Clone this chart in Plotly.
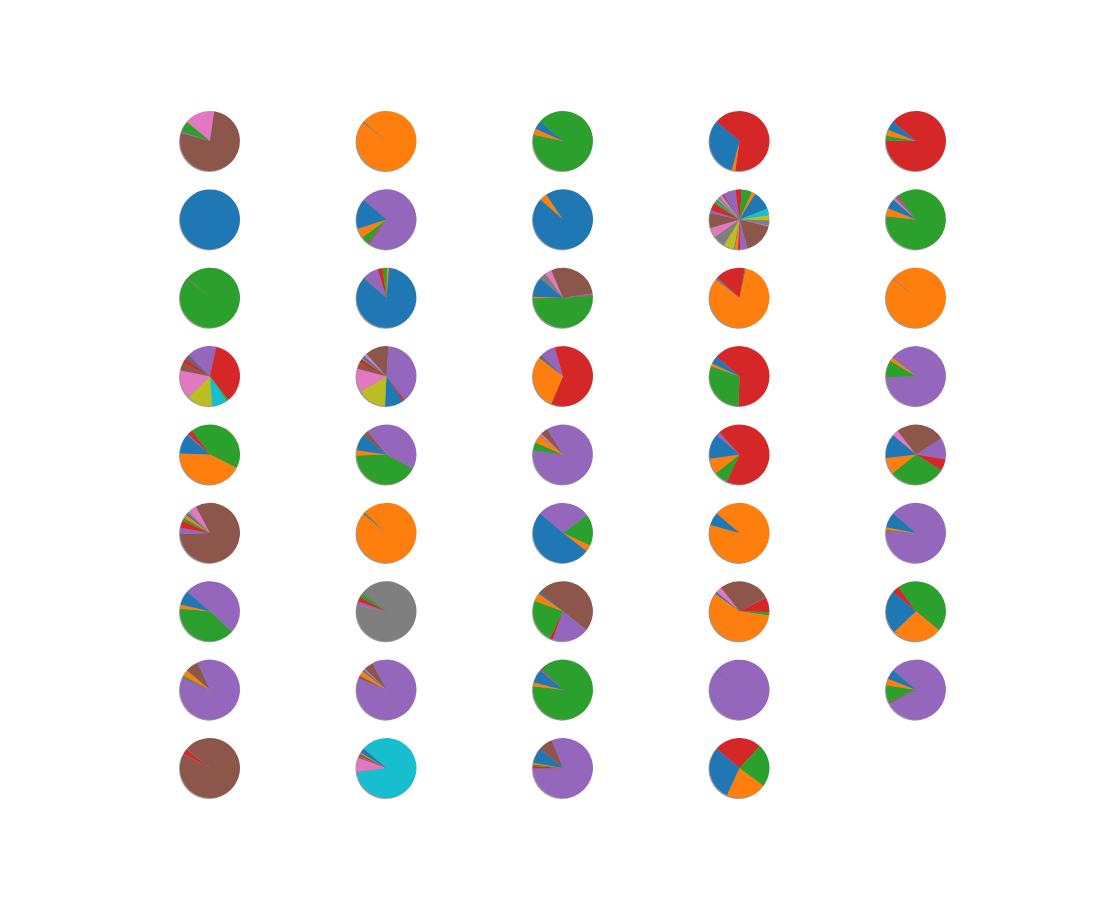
import plotly.graph_objects as go

# tab10 / d3 category10 palette, applied to slices in order (cycling)
palette = ["#1f77b4", "#ff7f0e", "#2ca02c", "#d62728", "#9467bd",
           "#8c564b", "#e377c2", "#7f7f7f", "#bcbd22", "#17becf"]

# slice values of each pie, row by row (first slice starts at 140 deg, counterclockwise)
row_1 = [
    [0, 0.5, 21, 0, 3, 277, 58],
    [1.5, 358.5],
    [16, 12, 332],
    [115, 7, 0, 238],
    [18, 12, 9, 321],
]
row_2 = [
    [360, 0.4],
    [58, 19, 15, 2, 266],
    [344, 14, 2],
    [2, 2, 4, 14, 6, 28, 19, 23, 20, 0.5, 1, 6, 0.5, 4, 14, 60, 2, 10, 10, 13,
     37, 7, 20, 12, 24, 4, 6, 3, 2, 3],
    [18, 16, 313, 2, 3, 2, 4, 2],
]
row_3 = [
    [0, 0, 358, 0.7, 0.5, 0.8],
    [305, 4, 9, 9, 31, 2],
    [38, 3, 183, 1, 3, 105, 13, 14],
    [2, 294, 2, 58, 2],
    [0.6, 358.6, 0, 0, 0.8],
]
row_4 = [
    [4, 0, 0, 10, 0, 15, 55, 0, 50, 30, 0, 0, 4, 130, 57, 5],
    [3, 1, 2, 8, 0, 12, 45, 0, 56, 0, 36, 0, 0, 4, 139, 46, 6, 0, 0, 0, 2],
    [2, 105, 0, 219, 30, 4],
    [15, 6, 107, 232],
    [1, 8, 33, 0.5, 317.5],
]
row_5 = [
    [38, 155, 154, 10, 3],
    [32, 10, 149, 0, 158, 11],
    [0.5, 16, 16, 0.5, 309, 14, 4],
    [48, 30.5, 26.5, 247, 8],
    [47, 31.5, 109.5, 22.5, 42, 96, 12],
]
row_6 = [
    [3, 7, 6, 14, 12, 296, 17, 5],
    [0.8, 356, 2.5, 0.7],
    [182, 13, 61, 0, 104],
    [25, 335],
    [29, 5, 2, 1, 323],
]
row_7 = [
    [27, 8, 142, 0, 183],
    [2, 1, 8, 10, 6, 1, 1, 331],
    [4, 16, 84, 6, 71.5, 178.5],
    [4, 208, 6, 29, 1, 100, 12],
    [83.5, 97, 165.5, 14],
]
row_8 = [
    [0.5, 12, 3, 0.5, 319, 25],
    [2, 10, 2, 3, 321, 18, 2, 2],
    [26.5, 7, 322, 2, 2.5],
    [0.4, 0, 0, 0.4, 359.2],
    [19, 12.6, 33.4, 2, 293],
]
row_9 = [
    [0.5, 0.5, 0.3, 11, 0.5, 347],
    [9, 2, 2, 3, 2, 2, 27, 1, 0, 312],
    [30, 3, 3, 5, 291, 28],
    [105, 78, 84, 93],
]
rows = [row_1, row_2, row_3, row_4, row_5, row_6, row_7, row_8, row_9]

W, H = 1100, 900
col_x = [210, 386.5, 563, 739.5, 916]
row_y0, row_dy = 141, 78.375
R = 30
START_ANGLE = 140  # matplotlib-style start, degrees ccw from 3 o'clock

fig = go.Figure()


def dom(cx, cy, dx=0.0, dy=0.0):
    return dict(x=[(cx - R + dx) / W, (cx + R + dx) / W],
                y=[1 - (cy + R + dy) / H, 1 - (cy - R + dy) / H])


for r, row in enumerate(rows):
    cy = row_y0 + r * row_dy
    for c, vals in enumerate(row):
        cx = col_x[c]
        # shadow
        fig.add_trace(go.Pie(values=[1], labels=["shadow"], sort=False,
                             marker=dict(colors=["rgba(70,70,70,0.55)"], line=dict(width=0)),
                             textinfo="none", hoverinfo="skip", showlegend=False,
                             domain=dom(cx, cy, -1.0, 1.0)))
        n = len(vals)
        cols = [palette[i % 10] for i in range(n)]
        labels = [f"slice {i + 1}" for i in range(n)]
        # draw clockwise from reversed order => counterclockwise order from start angle
        fig.add_trace(go.Pie(values=vals[::-1], labels=labels[::-1], sort=False,
                             direction="clockwise", rotation=90 - START_ANGLE,
                             marker=dict(colors=cols[::-1], line=dict(width=0)),
                             textinfo="none", showlegend=False,
                             domain=dom(cx, cy)))

fig.update_layout(width=W, height=H, margin=dict(l=0, r=0, t=0, b=0),
                  paper_bgcolor="white", plot_bgcolor="white", showlegend=False)
fig.write_html("out.html")
